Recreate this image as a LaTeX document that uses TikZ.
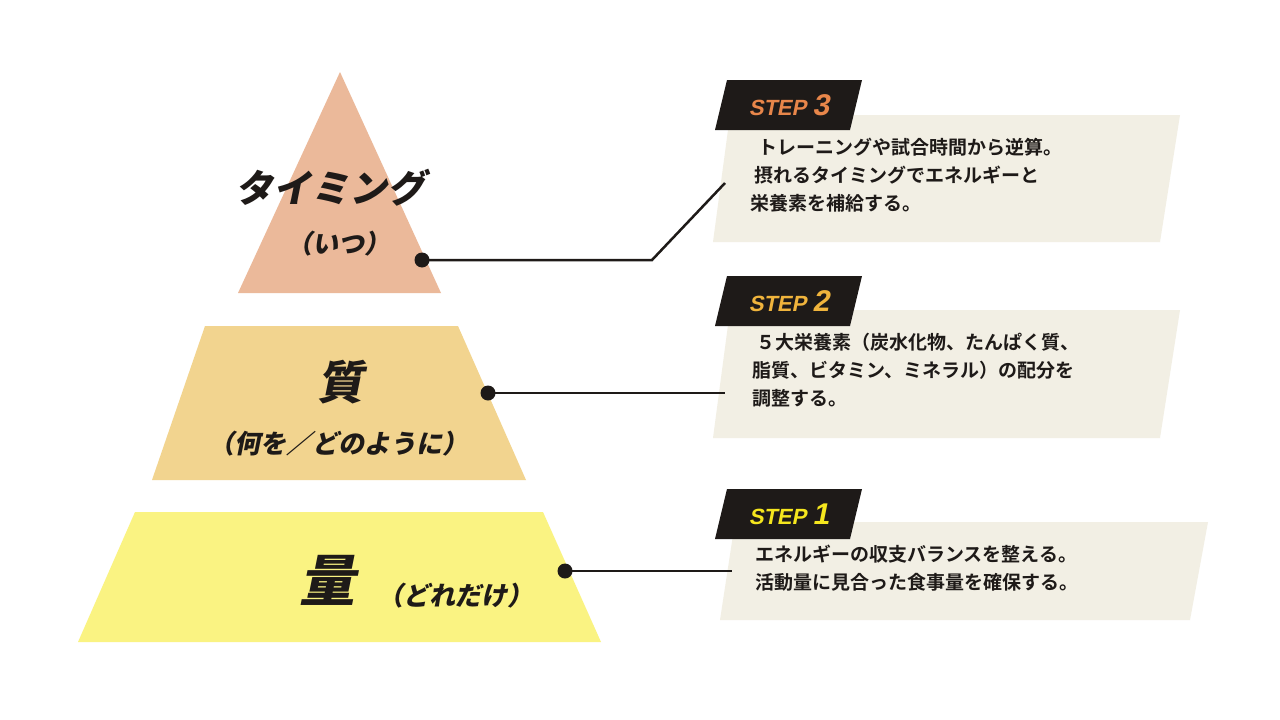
\documentclass[tikz,border=0pt]{standalone}
\usepackage{fontspec}
\newfontfamily\jp{Noto Sans CJK JP Bold}
\newfontfamily\jpi[FakeSlant=0.2]{Noto Sans CJK JP Black}
\newfontfamily\stepf[FakeSlant=0.2]{Liberation Sans Bold}
\definecolor{topc}{HTML}{EBB99A}
\definecolor{midc}{HTML}{F2D48F}
\definecolor{botc}{HTML}{FAF382}
\definecolor{panel}{HTML}{F2EFE4}
\definecolor{ink}{HTML}{1E1A18}
\definecolor{s3}{HTML}{E8864A}
\definecolor{s2}{HTML}{F0B43C}
\definecolor{s1}{HTML}{F5E61E}
\tikzset{dot/.style={circle,fill=ink,inner sep=0pt,minimum size=15pt},
 conn/.style={draw=ink,line width=2.5pt},
 body/.style={anchor=north west,align=left,font=\jp\fontsize{19}{28}\selectfont,text=ink,inner sep=0pt},
 stepl/.style={font=\stepf\fontsize{22}{22}\selectfont,inner sep=0pt}}
\begin{document}
\begin{tikzpicture}[x=1pt,y=-1pt]
\useasboundingbox (0,0) rectangle (1280,720);
\fill[white] (0,0) rectangle (1280,720);
% pyramid
\fill[topc] (340,72) -- (441,293) -- (238,293) -- cycle;
\fill[midc] (205,326) -- (458,326) -- (526,480) -- (152,480) -- cycle;
\fill[botc] (135,512) -- (543,512) -- (601,642) -- (78,642) -- cycle;
\node[font=\jpi\fontsize{38}{38}\selectfont,text=ink] (t3) at (330,188) {タイミング};
\node[font=\jpi\fontsize{26}{26}\selectfont,text=ink] (t3b) at (338,244) {（いつ）};
\node[font=\jpi\fontsize{46}{46}\selectfont,text=ink] (t2) at (340,382) {質};
\node[font=\jpi\fontsize{26}{26}\selectfont,text=ink] (t2b) at (338,444) {（何を／どのように）};
\node[font=\jpi\fontsize{56}{56}\selectfont,text=ink] (t1) at (327,580) {量};
\node[font=\jpi\fontsize{26}{26}\selectfont,text=ink] (t1b) at (455,596) {（どれだけ）};
% panels
\fill[panel] (730,115) -- (1180,115) -- (1160,242) -- (713,242) -- cycle;
\fill[panel] (730,310) -- (1180,310) -- (1160,438) -- (713,438) -- cycle;
\fill[panel] (735,522) -- (1208,522) -- (1190,620) -- (720,620) -- cycle;
% step labels
\fill[ink] (727,80) -- (862,80) -- (850,130) -- (715,130) -- cycle;
\fill[ink] (727,276) -- (862,276) -- (850,326) -- (715,326) -- cycle;
\fill[ink] (727,489) -- (862,489) -- (850,539) -- (715,539) -- cycle;
\node[stepl,text=s3] (l3) at (789,105) {STEP \fontsize{30}{30}\selectfont 3};
\node[stepl,text=s2] (l2) at (789,301) {STEP \fontsize{30}{30}\selectfont 2};
\node[stepl,text=s1] (l1) at (789,514) {STEP \fontsize{30}{30}\selectfont 1};
% texts
\node[body] (b3) at (750,138) {\ \ トレーニングや試合時間から逆算。\\\ 摂れるタイミングでエネルギーと\\栄養素を補給する。};
\node[body] (b2) at (752,333) {\ ５大栄養素（炭水化物、たんぱく質、\\脂質、ビタミン、ミネラル）の配分を\\調整する。};
\node[body] (b1) at (755,545) {エネルギーの収支バランスを整える。\\活動量に見合った食事量を確保する。};
% connectors
\node[dot] (d3) at (422,260) {};
\node[dot] (d2) at (488,393) {};
\node[dot] (d1) at (565,571) {};
\coordinate (e3) at (725,183);
\coordinate (e2) at (725,393);
\coordinate (e1) at (732,571);
\draw[conn] (d3.center) -- (652,260) -- (e3);
\draw[conn] (d2.center) -- (e2);
\draw[conn] (d1.center) -- (e1);
\end{tikzpicture}
\end{document}
